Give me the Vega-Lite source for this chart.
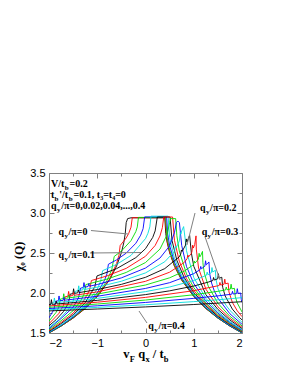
{
"$schema":"https://vega.github.io/schema/vega-lite/v6.json",
"width":193,"height":160,
"autosize":{"type":"none"},
"padding":{"left":49,"top":173,"right":49,"bottom":43},
"background":"white",
"config":{"view":{"stroke":"#808080","strokeWidth":1},"axis":{"tickColor":"#808080","tickWidth":1}},
"datasets":{
"curves":[
{"q":0,"x":-2,"y":1.5},{"q":0,"x":-1.75,"y":1.586},{"q":0,"x":-1.5,"y":1.686},{"q":0,"x":-1.25,"y":1.806},{"q":0,"x":-1,"y":1.956},{"q":0,"x":-0.75,"y":2.16},{"q":0,"x":-0.6,"y":2.335},{"q":0,"x":-0.5,"y":2.504},{"q":0,"x":-0.45,"y":2.629},{"q":0,"x":-0.42,"y":2.742},{"q":0,"x":-0.4,"y":2.88},{"q":0,"x":-0.37,"y":2.93},{"q":0,"x":-0.3,"y":2.94},{"q":0,"x":0.4,"y":2.94},{"q":0,"x":0.42,"y":2.742},{"q":0,"x":0.45,"y":2.629},{"q":0,"x":0.5,"y":2.504},{"q":0,"x":0.6,"y":2.335},{"q":0,"x":0.75,"y":2.16},{"q":0,"x":1,"y":1.956},{"q":0,"x":1.25,"y":1.806},{"q":0,"x":1.5,"y":1.686},{"q":0,"x":1.75,"y":1.586},{"q":0,"x":2,"y":1.5},
{"q":1,"x":-2,"y":1.501},{"q":1,"x":-1.75,"y":1.587},{"q":1,"x":-1.5,"y":1.688},{"q":1,"x":-1.25,"y":1.809},{"q":1,"x":-1,"y":1.96},{"q":1,"x":-0.75,"y":2.171},{"q":1,"x":-0.6,"y":2.367},{"q":1,"x":-0.55,"y":2.471},{"q":1,"x":-0.525,"y":2.593},{"q":1,"x":-0.4,"y":2.688},{"q":1,"x":-0.35,"y":2.742},{"q":1,"x":-0.3,"y":2.823},{"q":1,"x":-0.274,"y":2.941},{"q":1,"x":0.404,"y":2.941},{"q":1,"x":0.45,"y":2.642},{"q":1,"x":0.5,"y":2.513},{"q":1,"x":0.6,"y":2.34},{"q":1,"x":0.75,"y":2.166},{"q":1,"x":1,"y":1.958},{"q":1,"x":1.25,"y":1.808},{"q":1,"x":1.5,"y":1.687},{"q":1,"x":1.75,"y":1.587},{"q":1,"x":2,"y":1.501},
{"q":2,"x":-2,"y":1.503},{"q":2,"x":-1.75,"y":1.589},{"q":2,"x":-1.5,"y":1.692},{"q":2,"x":-1.25,"y":1.817},{"q":2,"x":-1,"y":1.974},{"q":2,"x":-0.8,"y":2.153},{"q":2,"x":-0.7,"y":2.289},{"q":2,"x":-0.648,"y":2.457},{"q":2,"x":-0.5,"y":2.524},{"q":2,"x":-0.3,"y":2.655},{"q":2,"x":-0.2,"y":2.768},{"q":2,"x":-0.17,"y":2.826},{"q":2,"x":-0.146,"y":2.945},{"q":2,"x":0.417,"y":2.945},{"q":2,"x":0.45,"y":2.686},{"q":2,"x":0.5,"y":2.54},{"q":2,"x":0.6,"y":2.356},{"q":2,"x":0.75,"y":2.173},{"q":2,"x":1,"y":1.963},{"q":2,"x":1.25,"y":1.811},{"q":2,"x":1.5,"y":1.689},{"q":2,"x":1.75,"y":1.588},{"q":2,"x":2,"y":1.502},
{"q":3,"x":-2,"y":1.507},{"q":3,"x":-1.75,"y":1.594},{"q":3,"x":-1.5,"y":1.7},{"q":3,"x":-1.25,"y":1.831},{"q":3,"x":-1,"y":2.001},{"q":3,"x":-0.85,"y":2.157},{"q":3,"x":-0.8,"y":2.238},{"q":3,"x":-0.769,"y":2.359},{"q":3,"x":-0.6,"y":2.414},{"q":3,"x":-0.4,"y":2.498},{"q":3,"x":-0.2,"y":2.622},{"q":3,"x":-0.1,"y":2.723},{"q":3,"x":-0.05,"y":2.804},{"q":3,"x":-0.017,"y":2.951},{"q":3,"x":0.438,"y":2.951},{"q":3,"x":0.46,"y":2.736},{"q":3,"x":0.5,"y":2.593},{"q":3,"x":0.6,"y":2.386},{"q":3,"x":0.75,"y":2.19},{"q":3,"x":1,"y":1.973},{"q":3,"x":1.25,"y":1.818},{"q":3,"x":1.5,"y":1.694},{"q":3,"x":1.75,"y":1.59},{"q":3,"x":2,"y":1.505},
{"q":4,"x":-2,"y":1.513},{"q":4,"x":-1.75,"y":1.601},{"q":4,"x":-1.5,"y":1.712},{"q":4,"x":-1.2,"y":1.881},{"q":4,"x":-1,"y":2.05},{"q":4,"x":-0.93,"y":2.144},{"q":4,"x":-0.889,"y":2.279},{"q":4,"x":-0.6,"y":2.357},{"q":4,"x":-0.3,"y":2.47},{"q":4,"x":0,"y":2.68},{"q":4,"x":0.05,"y":2.746},{"q":4,"x":0.09,"y":2.827},{"q":4,"x":0.114,"y":2.96},{"q":4,"x":0.469,"y":2.96},{"q":4,"x":0.5,"y":2.694},{"q":4,"x":0.6,"y":2.433},{"q":4,"x":0.75,"y":2.217},{"q":4,"x":1,"y":1.987},{"q":4,"x":1.25,"y":1.828},{"q":4,"x":1.5,"y":1.7},{"q":4,"x":1.75,"y":1.597},{"q":4,"x":2,"y":1.508},
{"q":5,"x":-2,"y":1.52},{"q":5,"x":-1.75,"y":1.617},{"q":5,"x":-1.5,"y":1.728},{"q":5,"x":-1.25,"y":1.878},{"q":5,"x":-1.05,"y":2.078},{"q":5,"x":-1.006,"y":2.213},{"q":5,"x":-0.6,"y":2.304},{"q":5,"x":-0.2,"y":2.442},{"q":5,"x":0,"y":2.554},{"q":5,"x":0.15,"y":2.695},{"q":5,"x":0.2,"y":2.776},{"q":5,"x":0.245,"y":2.95},{"q":5,"x":0.509,"y":2.95},{"q":5,"x":0.55,"y":2.656},{"q":5,"x":0.65,"y":2.408},{"q":5,"x":0.8,"y":2.195},{"q":5,"x":1,"y":2.006},{"q":5,"x":1.25,"y":1.84},{"q":5,"x":1.5,"y":1.708},{"q":5,"x":1.75,"y":1.604},{"q":5,"x":2,"y":1.513},
{"q":6,"x":-2,"y":1.529},{"q":6,"x":-1.75,"y":1.632},{"q":6,"x":-1.5,"y":1.749},{"q":6,"x":-1.3,"y":1.882},{"q":6,"x":-1.16,"y":2.034},{"q":6,"x":-1.121,"y":2.156},{"q":6,"x":-0.8,"y":2.213},{"q":6,"x":-0.4,"y":2.308},{"q":6,"x":0,"y":2.459},{"q":6,"x":0.2,"y":2.594},{"q":6,"x":0.3,"y":2.713},{"q":6,"x":0.35,"y":2.817},{"q":6,"x":0.378,"y":2.95},{"q":6,"x":0.561,"y":2.95},{"q":6,"x":0.6,"y":2.659},{"q":6,"x":0.7,"y":2.398},{"q":6,"x":0.85,"y":2.181},{"q":6,"x":1,"y":2.033},{"q":6,"x":1.25,"y":1.858},{"q":6,"x":1.5,"y":1.719},{"q":6,"x":1.75,"y":1.612},{"q":6,"x":2,"y":1.519},
{"q":7,"x":-2,"y":1.541},{"q":7,"x":-1.75,"y":1.653},{"q":7,"x":-1.5,"y":1.779},{"q":7,"x":-1.35,"y":1.894},{"q":7,"x":-1.27,"y":1.991},{"q":7,"x":-1.235,"y":2.106},{"q":7,"x":-0.8,"y":2.173},{"q":7,"x":-0.4,"y":2.257},{"q":7,"x":0,"y":2.381},{"q":7,"x":0.3,"y":2.549},{"q":7,"x":0.45,"y":2.732},{"q":7,"x":0.5,"y":2.883},{"q":7,"x":0.52,"y":2.93},{"q":7,"x":0.625,"y":2.93},{"q":7,"x":0.65,"y":2.716},{"q":7,"x":0.7,"y":2.525},{"q":7,"x":0.85,"y":2.238},{"q":7,"x":1,"y":2.068},{"q":7,"x":1.25,"y":1.874},{"q":7,"x":1.5,"y":1.733},{"q":7,"x":1.75,"y":1.621},{"q":7,"x":2,"y":1.526},
{"q":8,"x":-2,"y":1.554},{"q":8,"x":-1.75,"y":1.681},{"q":8,"x":-1.5,"y":1.821},{"q":8,"x":-1.39,"y":1.936},{"q":8,"x":-1.345,"y":2.061},{"q":8,"x":-1.29,"y":2.068},{"q":8,"x":-1.275,"y":2.13},{"q":8,"x":-1.26,"y":2.072},{"q":8,"x":-1.19,"y":2.081},{"q":8,"x":-1.175,"y":2.118},{"q":8,"x":-1.16,"y":2.085},{"q":8,"x":-1,"y":2.106},{"q":8,"x":-0.5,"y":2.189},{"q":8,"x":0,"y":2.312},{"q":8,"x":0.3,"y":2.437},{"q":8,"x":0.5,"y":2.589},{"q":8,"x":0.6,"y":2.753},{"q":8,"x":0.64,"y":2.88},{"q":8,"x":0.67,"y":2.9},{"q":8,"x":0.703,"y":2.88},{"q":8,"x":0.75,"y":2.595},{"q":8,"x":0.85,"y":2.331},{"q":8,"x":1,"y":2.118},{"q":8,"x":1.25,"y":1.9},{"q":8,"x":1.5,"y":1.749},{"q":8,"x":1.75,"y":1.631},{"q":8,"x":2,"y":1.535},
{"q":9,"x":-2,"y":1.571},{"q":9,"x":-1.8,"y":1.665},{"q":9,"x":-1.6,"y":1.793},{"q":9,"x":-1.5,"y":1.896},{"q":9,"x":-1.454,"y":2.022},{"q":9,"x":-1.399,"y":2.028},{"q":9,"x":-1.384,"y":2.09},{"q":9,"x":-1.369,"y":2.032},{"q":9,"x":-1.299,"y":2.04},{"q":9,"x":-1.284,"y":2.076},{"q":9,"x":-1.269,"y":2.043},{"q":9,"x":-1,"y":2.074},{"q":9,"x":-0.5,"y":2.147},{"q":9,"x":0,"y":2.251},{"q":9,"x":0.4,"y":2.391},{"q":9,"x":0.6,"y":2.522},{"q":9,"x":0.605,"y":2.528},{"q":9,"x":0.62,"y":2.582},{"q":9,"x":0.635,"y":2.566},{"q":9,"x":0.7,"y":2.647},{"q":9,"x":0.705,"y":2.66},{"q":9,"x":0.72,"y":2.758},{"q":9,"x":0.735,"y":2.737},{"q":9,"x":0.75,"y":2.775},{"q":9,"x":0.79,"y":2.83},{"q":9,"x":0.82,"y":2.685},{"q":9,"x":0.85,"y":2.528},{"q":9,"x":1,"y":2.193},{"q":9,"x":1.25,"y":1.934},{"q":9,"x":1.5,"y":1.769},{"q":9,"x":1.75,"y":1.642},{"q":9,"x":2,"y":1.545},
{"q":10,"x":-2,"y":1.591},{"q":10,"x":-1.85,"y":1.667},{"q":10,"x":-1.7,"y":1.767},{"q":10,"x":-1.6,"y":1.871},{"q":10,"x":-1.56,"y":1.986},{"q":10,"x":-1.505,"y":1.992},{"q":10,"x":-1.49,"y":2.053},{"q":10,"x":-1.475,"y":1.995},{"q":10,"x":-1.405,"y":2.002},{"q":10,"x":-1.39,"y":2.038},{"q":10,"x":-1.375,"y":2.005},{"q":10,"x":-1,"y":2.043},{"q":10,"x":-0.5,"y":2.108},{"q":10,"x":0,"y":2.196},{"q":10,"x":0.4,"y":2.305},{"q":10,"x":0.7,"y":2.452},{"q":10,"x":0.73,"y":2.486},{"q":10,"x":0.745,"y":2.538},{"q":10,"x":0.76,"y":2.52},{"q":10,"x":0.83,"y":2.599},{"q":10,"x":0.845,"y":2.676},{"q":10,"x":0.86,"y":2.638},{"q":10,"x":0.9,"y":2.7},{"q":10,"x":0.915,"y":2.72},{"q":10,"x":0.95,"y":2.502},{"q":10,"x":1,"y":2.334},{"q":10,"x":1.25,"y":1.98},{"q":10,"x":1.5,"y":1.795},{"q":10,"x":1.75,"y":1.662},{"q":10,"x":2,"y":1.557},
{"q":11,"x":-2,"y":1.616},{"q":11,"x":-1.8,"y":1.741},{"q":11,"x":-1.7,"y":1.845},{"q":11,"x":-1.663,"y":1.954},{"q":11,"x":-1.608,"y":1.959},{"q":11,"x":-1.593,"y":2.02},{"q":11,"x":-1.578,"y":1.962},{"q":11,"x":-1.508,"y":1.968},{"q":11,"x":-1.493,"y":2.004},{"q":11,"x":-1.478,"y":1.971},{"q":11,"x":-1,"y":2.014},{"q":11,"x":0,"y":2.146},{"q":11,"x":0.5,"y":2.26},{"q":11,"x":0.8,"y":2.38},{"q":11,"x":0.862,"y":2.428},{"q":11,"x":0.877,"y":2.474},{"q":11,"x":0.892,"y":2.451},{"q":11,"x":0.95,"y":2.495},{"q":11,"x":0.962,"y":2.514},{"q":11,"x":0.977,"y":2.598},{"q":11,"x":0.992,"y":2.562},{"q":11,"x":1.02,"y":2.606},{"q":11,"x":1.047,"y":2.714},{"q":11,"x":1.053,"y":2.549},{"q":11,"x":1.1,"y":2.311},{"q":11,"x":1.25,"y":2.049},{"q":11,"x":1.5,"y":1.828},{"q":11,"x":1.75,"y":1.683},{"q":11,"x":2,"y":1.572},
{"q":12,"x":-2,"y":1.648},{"q":12,"x":-1.85,"y":1.76},{"q":12,"x":-1.8,"y":1.819},{"q":12,"x":-1.764,"y":1.925},{"q":12,"x":-1.709,"y":1.929},{"q":12,"x":-1.694,"y":1.991},{"q":12,"x":-1.679,"y":1.932},{"q":12,"x":-1.609,"y":1.937},{"q":12,"x":-1.594,"y":1.974},{"q":12,"x":-1.579,"y":1.94},{"q":12,"x":-1,"y":1.986},{"q":12,"x":0,"y":2.1},{"q":12,"x":0.5,"y":2.19},{"q":12,"x":0.8,"y":2.272},{"q":12,"x":0.996,"y":2.355},{"q":12,"x":1.011,"y":2.399},{"q":12,"x":1.026,"y":2.375},{"q":12,"x":1.096,"y":2.422},{"q":12,"x":1.111,"y":2.496},{"q":12,"x":1.126,"y":2.451},{"q":12,"x":1.15,"y":2.475},{"q":12,"x":1.181,"y":2.52},{"q":12,"x":1.19,"y":2.38},{"q":12,"x":1.2,"y":2.324},{"q":12,"x":1.221,"y":2.247},{"q":12,"x":1.3,"y":2.086},{"q":12,"x":1.5,"y":1.872},{"q":12,"x":1.75,"y":1.708},{"q":12,"x":2,"y":1.589},
{"q":13,"x":-2,"y":1.69},{"q":13,"x":-1.9,"y":1.791},{"q":13,"x":-1.862,"y":1.898},{"q":13,"x":-1.807,"y":1.902},{"q":13,"x":-1.792,"y":1.963},{"q":13,"x":-1.777,"y":1.904},{"q":13,"x":-1.707,"y":1.908},{"q":13,"x":-1.692,"y":1.944},{"q":13,"x":-1.677,"y":1.91},{"q":13,"x":-1.5,"y":1.922},{"q":13,"x":-1,"y":1.959},{"q":13,"x":0,"y":2.057},{"q":13,"x":0.5,"y":2.129},{"q":13,"x":1,"y":2.242},{"q":13,"x":1.13,"y":2.291},{"q":13,"x":1.145,"y":2.332},{"q":13,"x":1.16,"y":2.303},{"q":13,"x":1.23,"y":2.335},{"q":13,"x":1.245,"y":2.403},{"q":13,"x":1.26,"y":2.352},{"q":13,"x":1.28,"y":2.363},{"q":13,"x":1.315,"y":2.388},{"q":13,"x":1.33,"y":2.242},{"q":13,"x":1.37,"y":2.124},{"q":13,"x":1.426,"y":2.026},{"q":13,"x":1.5,"y":1.936},{"q":13,"x":1.75,"y":1.74},{"q":13,"x":2,"y":1.609},
{"q":14,"x":-2,"y":1.762},{"q":14,"x":-1.958,"y":1.874},{"q":14,"x":-1.903,"y":1.877},{"q":14,"x":-1.888,"y":1.938},{"q":14,"x":-1.873,"y":1.879},{"q":14,"x":-1.803,"y":1.883},{"q":14,"x":-1.788,"y":1.919},{"q":14,"x":-1.773,"y":1.885},{"q":14,"x":-1.5,"y":1.9},{"q":14,"x":-1,"y":1.933},{"q":14,"x":0,"y":2.017},{"q":14,"x":0.5,"y":2.075},{"q":14,"x":1,"y":2.156},{"q":14,"x":1.263,"y":2.222},{"q":14,"x":1.278,"y":2.261},{"q":14,"x":1.293,"y":2.229},{"q":14,"x":1.363,"y":2.252},{"q":14,"x":1.378,"y":2.318},{"q":14,"x":1.393,"y":2.263},{"q":14,"x":1.448,"y":2.284},{"q":14,"x":1.46,"y":2.172},{"q":14,"x":1.5,"y":2.058},{"q":14,"x":1.6,"y":1.914},{"q":14,"x":1.677,"y":1.84},{"q":14,"x":1.75,"y":1.782},{"q":14,"x":2,"y":1.633},
{"q":15,"x":-2,"y":1.854},{"q":15,"x":-1.965,"y":1.856},{"q":15,"x":-1.95,"y":1.917},{"q":15,"x":-1.935,"y":1.858},{"q":15,"x":-1.865,"y":1.861},{"q":15,"x":-1.85,"y":1.897},{"q":15,"x":-1.835,"y":1.863},{"q":15,"x":-1.5,"y":1.88},{"q":15,"x":-1,"y":1.908},{"q":15,"x":0,"y":1.98},{"q":15,"x":0.5,"y":2.027},{"q":15,"x":1,"y":2.087},{"q":15,"x":1.3,"y":2.136},{"q":15,"x":1.396,"y":2.156},{"q":15,"x":1.411,"y":2.194},{"q":15,"x":1.426,"y":2.162},{"q":15,"x":1.496,"y":2.177},{"q":15,"x":1.511,"y":2.241},{"q":15,"x":1.526,"y":2.184},{"q":15,"x":1.581,"y":2.197},{"q":15,"x":1.6,"y":2.071},{"q":15,"x":1.65,"y":1.964},{"q":15,"x":1.8,"y":1.799},{"q":15,"x":1.95,"y":1.693},{"q":15,"x":2,"y":1.664},
{"q":16,"x":-2,"y":1.838},{"q":16,"x":-1,"y":1.885},{"q":16,"x":0,"y":1.945},{"q":16,"x":1,"y":2.029},{"q":16,"x":1.5,"y":2.09},{"q":16,"x":1.528,"y":2.094},{"q":16,"x":1.543,"y":2.132},{"q":16,"x":1.558,"y":2.099},{"q":16,"x":1.628,"y":2.11},{"q":16,"x":1.643,"y":2.173},{"q":16,"x":1.658,"y":2.115},{"q":16,"x":1.713,"y":2.124},{"q":16,"x":1.73,"y":2.013},{"q":16,"x":1.8,"y":1.883},{"q":16,"x":1.9,"y":1.779},{"q":16,"x":2,"y":1.704},
{"q":17,"x":-2,"y":1.821},{"q":17,"x":-1,"y":1.862},{"q":17,"x":0,"y":1.912},{"q":17,"x":1,"y":1.978},{"q":17,"x":1.5,"y":2.021},{"q":17,"x":1.659,"y":2.038},{"q":17,"x":1.674,"y":2.075},{"q":17,"x":1.689,"y":2.041},{"q":17,"x":1.759,"y":2.049},{"q":17,"x":1.774,"y":2.11},{"q":17,"x":1.789,"y":2.052},{"q":17,"x":1.844,"y":2.058},{"q":17,"x":1.86,"y":1.959},{"q":17,"x":1.9,"y":1.877},{"q":17,"x":2,"y":1.763},
{"q":18,"x":-2,"y":1.806},{"q":18,"x":-1,"y":1.84},{"q":18,"x":0,"y":1.882},{"q":18,"x":1,"y":1.933},{"q":18,"x":1.5,"y":1.964},{"q":18,"x":1.788,"y":1.985},{"q":18,"x":1.803,"y":2.021},{"q":18,"x":1.818,"y":1.987},{"q":18,"x":1.888,"y":1.993},{"q":18,"x":1.903,"y":2.054},{"q":18,"x":1.918,"y":1.995},{"q":18,"x":1.973,"y":2.0},{"q":18,"x":1.985,"y":1.92},{"q":18,"x":2,"y":1.882},
{"q":19,"x":-2,"y":1.791},{"q":19,"x":-1,"y":1.82},{"q":19,"x":0,"y":1.853},{"q":19,"x":1,"y":1.892},{"q":19,"x":1.5,"y":1.915},{"q":19,"x":1.8,"y":1.931},{"q":19,"x":2,"y":1.942},
{"q":20,"x":-2,"y":1.776},{"q":20,"x":-1,"y":1.8},{"q":20,"x":0,"y":1.826},{"q":20,"x":1,"y":1.856},{"q":20,"x":2,"y":1.891}
],
"arrows":[
{"x":-1.13,"y":2.781,"x2":-0.363,"y2":2.738},
{"x":-1.15,"y":2.5,"x2":-0.093,"y2":2.506},
{"x":1.026,"y":3.0,"x2":0.86,"y2":2.6},
{"x":1.233,"y":2.704,"x2":1.544,"y2":2.163},
{"x":0.031,"y":1.625,"x2":-0.135,"y2":1.775}
],
"mainText":[
{"t":"V/t","x":-1.959,"y":3.33},{"t":"=0.2","x":-1.573,"y":3.33},
{"t":"t","x":-1.959,"y":3.19},{"t":"'/t","x":-1.787,"y":3.19},{"t":"=0.1, t₃=t₄=0","x":-1.49,"y":3.19},
{"t":"q","x":-1.959,"y":3.056},{"t":"/π=0,0.02,0.04,...,0.4","x":-1.747,"y":3.056},
{"t":"q","x":-1.803,"y":2.73},{"t":"/π=0","x":-1.594,"y":2.73},
{"t":"q","x":-1.803,"y":2.44},{"t":"/π=0.1","x":-1.594,"y":2.44},
{"t":"q","x":1.13,"y":3.03},{"t":"/π=0.2","x":1.339,"y":3.03},
{"t":"q","x":1.165,"y":2.72},{"t":"/π=0.3","x":1.374,"y":2.72},
{"t":"q","x":0.058,"y":1.55},{"t":"/π=0.4","x":0.267,"y":1.55}
],
"subText":[
{"t":"b","x":-1.673,"y":3.33},
{"t":"b","x":-1.884,"y":3.19},{"t":"b","x":-1.592,"y":3.19},
{"t":"y","x":-1.834,"y":3.056},
{"t":"y","x":-1.681,"y":2.73},
{"t":"y","x":-1.681,"y":2.44},
{"t":"y","x":1.252,"y":3.03},
{"t":"y","x":1.287,"y":2.72},
{"t":"y","x":0.18,"y":1.55}
],
"titleMain":[
{"t":"v","x":-0.46,"y":1.1875},{"t":"q","x":-0.151,"y":1.1875},{"t":"/ t","x":0.151,"y":1.1875}
],
"titleSub":[
{"t":"F","x":-0.325,"y":1.1875},{"t":"x","x":0.0,"y":1.1875},{"t":"b","x":0.379,"y":1.1875}
]
},
"layer":[
{
"data":{"name":"curves"},
"mark":{"type":"line","strokeWidth":0.9,"clip":true},
"encoding":{
"x":{"field":"x","type":"quantitative","scale":{"domain":[-2,2],"nice":false,"zero":false},
 "axis":{"orient":"bottom","values":[-2,-1,0,1,2],"ticks":false,"tickSize":0,"domain":false,"grid":false,"title":null,"labelFont":"Liberation Sans","labelFontSize":11,"labelColor":"#000000","labelPadding":4}},
"y":{"field":"y","type":"quantitative","scale":{"domain":[1.5,3.5],"nice":false,"zero":false},
 "axis":{"orient":"left","values":[1.5,2,2.5,3,3.5],"ticks":false,"tickSize":0,"domain":false,"grid":false,"labelFont":"Liberation Sans","labelFontSize":11,"labelColor":"#000000","labelPadding":4,
 "title":"χ₀ (Q)","titleFont":"Liberation Serif","titleFontWeight":"bold","titleFontSize":12,"titleColor":"#000000","titleAngle":270,"titleX":-27,"titleY":83,"titleAlign":"center","titleBaseline":"alphabetic"}},
"color":{"field":"q","type":"nominal","legend":null,
 "scale":{"domain":[0,1,2,3,4,5,6,7,8,9,10,11,12,13,14,15,16,17,18,19,20],
 "range":["#000000","#ff0000","#00dd00","#0000ff","#00dddd","#000000","#ff0000","#00dd00","#0000ff","#00dddd","#000000","#ff0000","#00dd00","#0000ff","#00dddd","#000000","#ff0000","#00dd00","#0000ff","#00dddd","#000000"]}}
}
},
{
"data":{"name":"arrows"},
"mark":{"type":"rule","color":"#808080","strokeWidth":1},
"encoding":{
"x":{"field":"x","type":"quantitative","scale":{"domain":[-2,2],"nice":false,"zero":false},
 "axis":{"orient":"top","offset":-160,"values":[-2,-1.5,-1,-0.5,0,0.5,1,1.5,2],"labels":false,"domain":false,"grid":false,"title":null,
 "tickSize":{"condition":{"test":"datum.value % 1 === 0","value":5},"value":3}}},
"x2":{"field":"x2"},
"y":{"field":"y","type":"quantitative","scale":{"domain":[1.5,3.5],"nice":false,"zero":false},
 "axis":{"orient":"right","offset":-193,"values":[1.5,1.75,2,2.25,2.5,2.75,3,3.25,3.5],"labels":false,"domain":false,"grid":false,"title":null,
 "tickSize":{"condition":{"test":"(datum.value*2) % 1 === 0","value":5},"value":3}}},
"y2":{"field":"y2"}
}
},
{
"data":{"name":"mainText"},
"mark":{"type":"text","font":"Liberation Serif","fontWeight":"bold","fontSize":10,"align":"left","baseline":"alphabetic","color":"#000000"},
"encoding":{
"x":{"field":"x","type":"quantitative","scale":{"domain":[-2,2],"nice":false,"zero":false},
 "axis":{"orient":"bottom","offset":-160,"values":[-2,-1.5,-1,-0.5,0,0.5,1,1.5,2],"labels":false,"domain":false,"grid":false,"title":null,
 "tickSize":{"condition":{"test":"datum.value % 1 === 0","value":5},"value":3}}},
"y":{"field":"y","type":"quantitative","scale":{"domain":[1.5,3.5],"nice":false,"zero":false},
 "axis":{"orient":"left","offset":-193,"values":[1.5,1.75,2,2.25,2.5,2.75,3,3.25,3.5],"labels":false,"domain":false,"grid":false,"title":null,
 "tickSize":{"condition":{"test":"(datum.value*2) % 1 === 0","value":5},"value":3}}},
"text":{"field":"t"}
}
},
{
"data":{"name":"subText"},
"mark":{"type":"text","font":"Liberation Serif","fontWeight":"bold","fontSize":7,"align":"left","baseline":"alphabetic","dy":3,"color":"#000000"},
"encoding":{
"x":{"field":"x","type":"quantitative","scale":{"domain":[-2,2],"nice":false,"zero":false},"axis":null},
"y":{"field":"y","type":"quantitative","scale":{"domain":[1.5,3.5],"nice":false,"zero":false},"axis":null},
"text":{"field":"t"}
}
},
{
"data":{"name":"titleMain"},
"mark":{"type":"text","font":"Liberation Serif","fontWeight":"bold","fontSize":12.5,"align":"left","baseline":"alphabetic","color":"#000000"},
"encoding":{
"x":{"field":"x","type":"quantitative","scale":{"domain":[-2,2],"nice":false,"zero":false},"axis":null},
"y":{"field":"y","type":"quantitative","scale":{"domain":[1.5,3.5],"nice":false,"zero":false},"axis":null},
"text":{"field":"t"}
}
},
{
"data":{"name":"titleSub"},
"mark":{"type":"text","font":"Liberation Serif","fontWeight":"bold","fontSize":8.5,"align":"left","baseline":"alphabetic","dy":3.5,"color":"#000000"},
"encoding":{
"x":{"field":"x","type":"quantitative","scale":{"domain":[-2,2],"nice":false,"zero":false},"axis":null},
"y":{"field":"y","type":"quantitative","scale":{"domain":[1.5,3.5],"nice":false,"zero":false},"axis":null},
"text":{"field":"t"}
}
}
],
"resolve":{"axis":{"x":"independent","y":"independent"}}
}
